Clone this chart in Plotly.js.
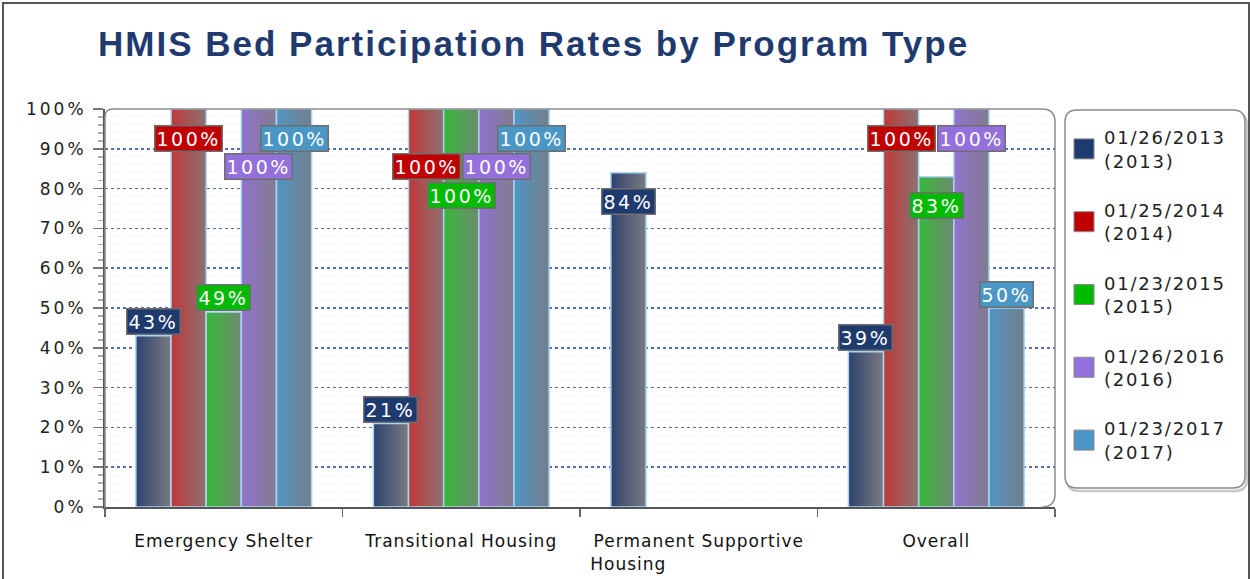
<!DOCTYPE html>
<html>
<head>
<meta charset="utf-8">
<script src="https://cdn.plot.ly/plotly-3.0.1.min.js"></script>
<style>
  html, body { margin: 0; padding: 0; background: #fff; }
  #wrap { position: relative; width: 1250px; height: 579px; overflow: hidden; }
  #chart { width: 1250px; height: 579px; }
  #frame { position: absolute; left: 2px; top: 2px; width: 1244px; height: 620px; border: 2px solid #555; pointer-events: none; }
  .gtitle { letter-spacing: 2px; }
  .ytick text { letter-spacing: 3px; }
  .xtick text { letter-spacing: 1px; }
  .legendtext { letter-spacing: 1.8px; }
  .annotation-text { letter-spacing: 2.5px; }
</style>
</head>
<body>
<div id="wrap">
  <div id="chart"></div>
  <div id="frame"></div>
</div>
<script>
// ---------- data ----------
const categories = ['Emergency Shelter', 'Transitional Housing', 'Permanent Supportive Housing', 'Overall'];
const categoryTickText = ['Emergency Shelter', 'Transitional Housing',
  'Permanent Supportive<br>Housing' + '\u00a0'.repeat(22), 'Overall'];
const seriesNames = ['01/26/2013<br>(2013)', '01/25/2014<br>(2014)', '01/23/2015<br>(2015)', '01/26/2016<br>(2016)', '01/23/2017<br>(2017)'];
const v2013 = [43, 21, 84, 39];
const v2014 = [100, 100, null, 100];
const v2015 = [49, 100, null, 83];
const v2016 = [100, 100, null, 100];
const v2017 = [100, 100, null, 50];
const seriesValues = [v2013, v2014, v2015, v2016, v2017];
const yTickVals = [0, 10, 20, 30, 40, 50, 60, 70, 80, 90, 100];
const yTickText = ['0%', '10%', '20%', '30%', '40%', '50%', '60%', '70%', '80%', '90%', '100%'];

// ---------- styling ----------
const colors = ['#1F3A6E', '#C00000', '#00BB00', '#9370DB', '#4A96C6'];
const gradEnd = ['#7A7B80', '#8C7272', '#6E8A72', '#817C8E', '#737E8B'];
const barLeft = ['#2E4270', '#C03838', '#38B838', '#9272CF', '#5096C4'];
// label placement row for each series/category: 'a' = above bar top, 1..3 = inside rows
const labelRows = [
  ['a', 'a', 1, 'a'],
  [1, 2, null, 1],
  ['a', 3, null, 1],
  [2, 2, null, 1],
  [1, 1, null, 'a']
];
const rowShift = { 'a': 14, 1: -29, 2: -57, 3: -86 };
const bargap = 0.26;
const nSeries = seriesValues.length;
const barW = (1 - bargap) / nSeries;

const traces = seriesValues.map((vals, i) => ({
  type: 'bar',
  name: seriesNames[i],
  x: categories,
  y: vals,
  legendgroup: 'g' + i,
  marker: { color: colors[i], line: { color: '#A9D6F5', width: 1.5 } },
  hoverinfo: 'skip'
}));

const annotations = [];
seriesValues.forEach((vals, i) => {
  vals.forEach((v, c) => {
    if (v === null) return;
    annotations.push({
      xref: 'x', yref: 'y',
      x: c + (i - (nSeries - 1) / 2) * barW,
      y: v,
      text: v + '%',
      showarrow: false,
      xanchor: 'center', yanchor: 'middle',
      yshift: rowShift[labelRows[i][c]],
      font: { family: 'DejaVu Sans', size: 19, color: '#ffffff' },
      bgcolor: colors[i],
      bordercolor: '#6e6e6e',
      borderwidth: 1.5,
      borderpad: 1,
      height: 22
    });
  });
});

// plot frame (rounded corners) and legend box, in paper coords
const PW = 950, PH = 398;
const rx = px => px / PW, ry = px => px / PH;
const r1 = 8, r2 = 13;
const framePath = 'M0,' + (ry(-1)) + ' V' + (1 - ry(r1)) + ' Q0,1 ' + rx(r1) + ',1' +
  ' H' + (1 - rx(r2)) + ' Q1,1 1,' + (1 - ry(r2)) + ' V' + ry(r2) + ' Q1,0 ' + (1 - rx(r2)) + ',0';
function roundRect(x0, y0, x1, y1, r) {
  const X = p => rx(p), Y = p => ry(p);
  return 'M' + X(x0 + r) + ',' + Y(y1) + ' H' + X(x1 - r) + ' Q' + X(x1) + ',' + Y(y1) + ' ' + X(x1) + ',' + Y(y1 - r) +
    ' V' + Y(y0 + r) + ' Q' + X(x1) + ',' + Y(y0) + ' ' + X(x1 - r) + ',' + Y(y0) +
    ' H' + X(x0 + r) + ' Q' + X(x0) + ',' + Y(y0) + ' ' + X(x0) + ',' + Y(y0 + r) +
    ' V' + Y(y1 - r) + ' Q' + X(x0) + ',' + Y(y1) + ' ' + X(x0 + r) + ',' + Y(y1) + ' Z';
}
const lgX0 = 1065 - 105, lgX1 = 1245 - 105, lgY1 = 507 - 110, lgY0 = 507 - 488;
const shapes = [
  { type: 'path', xref: 'paper', yref: 'paper', path: roundRect(lgX0 + 2, lgY0 - 3, lgX1 + 2, lgY1 - 3, 12), line: { color: '#c8c8c8', width: 2.5 }, fillcolor: 'rgba(0,0,0,0)', layer: 'below' },
  { type: 'path', xref: 'paper', yref: 'paper', path: roundRect(lgX0, lgY0, lgX1, lgY1, 12), line: { color: '#8a8a8a', width: 1.5 }, fillcolor: '#ffffff', layer: 'below' },
  { type: 'path', xref: 'paper', yref: 'paper', path: framePath, line: { color: '#8c8c8c', width: 1.5 }, layer: 'above' }
];

const layout = {
  width: 1250, height: 579,
  margin: { l: 105, r: 195, t: 109, b: 72, autoexpand: false },
  paper_bgcolor: '#ffffff', plot_bgcolor: '#ffffff',
  font: { family: 'DejaVu Sans', color: '#1a1a1a' },
  title: {
    text: 'HMIS Bed Participation Rates by Program Type',
    xref: 'container', yref: 'container',
    x: 98 / 1250, xanchor: 'left',
    y: 1 - 44 / 579, yanchor: 'middle',
    font: { family: 'Liberation Sans', size: 35, weight: 'bold', color: '#1F3A6E' }
  },
  barmode: 'group', bargap: bargap, bargroupgap: 0,
  showlegend: true,
  legend: {
    x: (1064 - 105) / PW, xanchor: 'left', y: 1 - ry(10), yanchor: 'top',
    bgcolor: 'rgba(0,0,0,0)', borderwidth: 0,
    font: { family: 'DejaVu Sans', size: 18, color: '#222' },
    traceorder: 'grouped', tracegroupgap: 23, itemclick: false
  },
  xaxis: {
    type: 'category', range: [-0.5, 3.5],
    tickvals: categories, ticktext: categoryTickText,
    tickson: 'boundaries', ticks: 'outside', ticklen: 8, tickcolor: '#666', tickwidth: 1.5,
    showline: true, linecolor: '#555', linewidth: 2,
    showgrid: false, zeroline: false,
    ticklabelstandoff: 18,
    tickfont: { family: 'DejaVu Sans', size: 17, color: '#111' },
    fixedrange: true
  },
  yaxis: {
    range: [0, 100], tickvals: yTickVals, ticktext: yTickText,
    ticks: 'outside', ticklen: 10, tickcolor: '#777', tickwidth: 1.5,
    showline: true, linecolor: '#555', linewidth: 2,
    showgrid: true, gridcolor: '#5572A8', gridwidth: 1.5, griddash: 'dot',
    zeroline: false,
    minor: { dtick: 2, ticks: 'outside', ticklen: 5, tickcolor: '#aaa', showgrid: true, gridcolor: '#f1f1f1', gridwidth: 1 },
    ticklabelstandoff: 3,
    tickfont: { family: 'DejaVu Sans', size: 17, color: '#222' },
    fixedrange: true
  },
  annotations: annotations,
  shapes: shapes
};

const gd = document.getElementById('chart');
Plotly.newPlot(gd, traces, layout, { displayModeBar: false, staticPlot: true }).then(postStyle);

function postStyle() {
  const svg = gd.querySelector('svg.main-svg');
  const NS = 'http://www.w3.org/2000/svg';
  let defs = svg.querySelector('defs');
  if (!defs) { defs = document.createElementNS(NS, 'defs'); svg.insertBefore(defs, svg.firstChild); }
  barLeft.forEach((c, i) => {
    const g = document.createElementNS(NS, 'linearGradient');
    g.setAttribute('id', 'barGrad' + i);
    g.setAttribute('x1', '0'); g.setAttribute('y1', '0'); g.setAttribute('x2', '1'); g.setAttribute('y2', '0');
    const s0 = document.createElementNS(NS, 'stop'); s0.setAttribute('offset', '0'); s0.setAttribute('stop-color', c);
    const s1 = document.createElementNS(NS, 'stop'); s1.setAttribute('offset', '1'); s1.setAttribute('stop-color', gradEnd[i]);
    g.appendChild(s0); g.appendChild(s1); defs.appendChild(g);
  });
  gd.querySelectorAll('.barlayer .trace').forEach((t, i) => {
    t.querySelectorAll('.point path').forEach(p => { p.style.fill = 'url(#barGrad' + i + ')'; });
  });
  // bigger legend swatches with grey outline
  gd.querySelectorAll('.legend .legendpoints path').forEach(p => {
    p.setAttribute('d', 'M10,10H-10V-10H10Z');
    p.style.stroke = '#8a8a8a';
    p.style.strokeWidth = '1px';
  });
}
</script>
</body>
</html>
